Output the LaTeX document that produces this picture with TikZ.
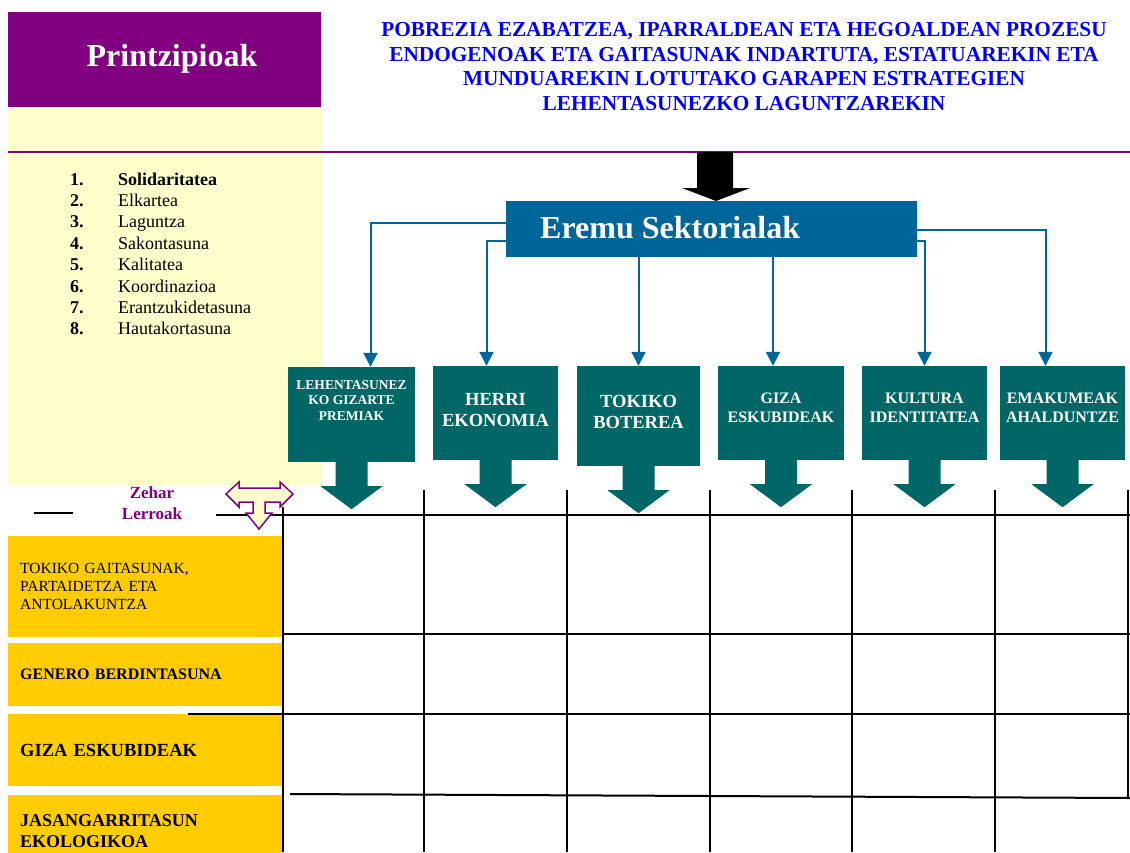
\documentclass[tikz,border=0pt]{standalone}
\usepackage{fontspec}
\setmainfont{Liberation Serif}
\usetikzlibrary{arrows.meta,calc,positioning}
\definecolor{princpurple}{HTML}{800080}
\definecolor{paleyellow}{HTML}{FFFFCC}
\definecolor{crossgold}{HTML}{FFCC00}
\definecolor{eremublue}{HTML}{006699}
\definecolor{sectorteal}{HTML}{006666}

\begin{document}
\begin{tikzpicture}[x=1pt,y=-1pt,
    sector/.style={fill=sectorteal, inner sep=0pt},
    sectortext/.style={text=white, align=center, anchor=north, inner sep=0pt},
    conn/.style={draw=eremublue, line width=2pt, -{Triangle[width=14pt,length=14pt]}},
    crossbox/.style={fill=crossgold, minimum width=275pt, text width=251pt, inner xsep=12pt, inner ysep=0pt, align=left, anchor=north west},
    gridline/.style={line width=2pt}]
    \useasboundingbox (0,0) rectangle (1130,852);

    % Printzipioak
    \fill[paleyellow] (8,107) rectangle (321,485);
    \node[fill=princpurple, minimum width=313pt, minimum height=95pt, inner sep=0pt, anchor=north west] (princ) at (8,12) {};
    \node[text=white, font=\fontsize{32}{36}\selectfont\bfseries] (princtitle) at (172,59) {Printzipioak};
    \draw[princpurple, line width=2pt] (8,152) -- (1130,152);

    \foreach \i/\word in {1/{\textbf{Solidaritatea}},2/Elkartea,3/Laguntza,4/Sakontasuna,5/Kalitatea,6/Koordinazioa,7/Erantzukidetasuna,8/Hautakortasuna} {
        \node[font=\fontsize{18}{21}\selectfont\bfseries, anchor=base west, inner sep=0pt] (num\i) at (70,163.6+21.4*\i) {\i.};
        \node[font=\fontsize{18}{21}\selectfont, anchor=base west, inner sep=0pt] (word\i) at (118,163.6+21.4*\i) {\word};
    }

    % helburua
    \node[text=blue, font=\fontsize{21.3}{24.7}\selectfont\bfseries, align=center, inner sep=0pt] (goal) at (744,66.5) {POBREZIA EZABATZEA, IPARRALDEAN ETA HEGOALDEAN PROZESU\\ENDOGENOAK ETA GAITASUNAK INDARTUTA, ESTATUAREKIN ETA\\MUNDUAREKIN LOTUTAKO GARAPEN ESTRATEGIEN\\LEHENTASUNEZKO LAGUNTZAREKIN};
    \fill (697,152) -- (733,152) -- (733,188) -- (750,188) -- (716,201) -- (682,188) -- (697,188) -- cycle;

    % Eremu Sektorialak
    \node[fill=eremublue, minimum width=411pt, minimum height=56pt, inner sep=0pt, anchor=north west] (eremu) at (506,201) {};
    \node[text=white, font=\fontsize{32}{36}\selectfont\bfseries, anchor=base west, inner sep=0pt] (eremutext) at (540,238) {Eremu Sektorialak};

    \node[sector, minimum width=127pt, minimum height=95pt] (s1) at (351.5,414.5) {};
    \node[sector, minimum width=125pt, minimum height=94pt] (s2) at (495.5,413) {};
    \node[sector, minimum width=123pt, minimum height=100pt] (s3) at (638.5,416) {};
    \node[sector, minimum width=126pt, minimum height=94pt] (s4) at (781,413) {};
    \node[sector, minimum width=125pt, minimum height=94pt] (s5) at (924.5,413) {};
    \node[sector, minimum width=125pt, minimum height=94pt] (s6) at (1062.5,413) {};
    \foreach \n in {1,...,6}
        \fill[sectorteal] ($(s\n.south)+(-16,0)$) -- ++(32,0) -- ++(0,24) -- ++(15,0) -- ($(s\n.south)+(0,47)$) -- ++(-31,-23) -- ++(15,0) -- cycle;

    \node[sectortext, font=\fontsize{13.5}{15.5}\selectfont\bfseries] (s1t) at (351.5,380) {LEHENTASUNEZ\\KO GIZARTE\\PREMIAK};
    \node[sectortext, font=\fontsize{18.5}{21.5}\selectfont\bfseries] (s2t) at (495.5,393) {HERRI\\EKONOMIA};
    \node[sectortext, font=\fontsize{18.5}{21.5}\selectfont\bfseries] (s3t) at (638.5,395) {TOKIKO\\BOTEREA};
    \node[sectortext, font=\fontsize{16}{19}\selectfont\bfseries] (s4t) at (781,393) {GIZA\\ESKUBIDEAK};
    \node[sectortext, font=\fontsize{16}{19}\selectfont\bfseries] (s5t) at (924.5,393) {KULTURA\\IDENTITATEA};
    \node[sectortext, font=\fontsize{16}{19}\selectfont\bfseries] (s6t) at (1062.5,393) {EMAKUMEAK\\AHALDUNTZE};

    \coordinate (c4) at ($(s4.north)+(-8,0)$);
    \draw[conn] ($(eremu.north west)+(0,22)$) -| ([xshift=19pt]s1.north);
    \draw[conn] ($(eremu.north west)+(0,40)$) -| ([xshift=-9pt]s2.north);
    \draw[conn] (s3.north |- eremu.south) -- (s3.north);
    \draw[conn] (c4 |- eremu.south) -- (c4);
    \draw[conn] ($(eremu.north east)+(0,40)$) -| (s5.north);
    \draw[conn] ($(eremu.north east)+(0,29)$) -| ([xshift=-17pt]s6.north);

    % Zehar lerroak
    \node[crossbox, minimum height=101pt, font=\fontsize{15.5}{18}\selectfont] (z1) at (8,536) {TOKIKO GAITASUNAK,\\PARTAIDETZA ETA\\ANTOLAKUNTZA};
    \node[crossbox, minimum height=63pt, font=\fontsize{16}{19}\selectfont\bfseries] (z2) at (8,643) {GENERO BERDINTASUNA};
    \node[crossbox, minimum height=72pt, font=\fontsize{18.5}{21.5}\selectfont\bfseries] (z3) at (8,714) {GIZA ESKUBIDEAK};
    \node[crossbox, minimum height=72pt, font=\fontsize{18}{21.5}\selectfont\bfseries] (z4) at (8,795) {JASANGARRITASUN\\EKOLOGIKOA};

    \draw[gridline] (34,513) -- (73,513);
    \draw[gridline] (216,515) -- (1130,515);
    \draw[gridline] (283,634) -- (1130,634);
    \draw[gridline] (188,714) -- (1130,714);
    \draw[gridline] (290,794) -- (1130,798);
    \draw[gridline] (283,507) -- (283,852);
    \foreach \x in {424,567,710,852,995}
        \draw[gridline] (\x,490) -- (\x,852);
    \draw[gridline] (1128,490) -- (1128,798);

    \node[text=princpurple, font=\fontsize{17}{21}\selectfont\bfseries, align=center, inner sep=0pt] (zehar) at (152,503) {Zehar\\Lerroak};
    \filldraw[fill=paleyellow, draw=princpurple, line width=1.5pt] (226,494) -- (239,482) -- (239,488) -- (280,488) -- (280,482) -- (293,494) -- (280,507) -- (280,502) -- (265,502) -- (265,513) -- (272,513) -- (259,529) -- (246,513) -- (253,513) -- (253,502) -- (239,502) -- (239,507) -- cycle;
\end{tikzpicture}
\end{document}
